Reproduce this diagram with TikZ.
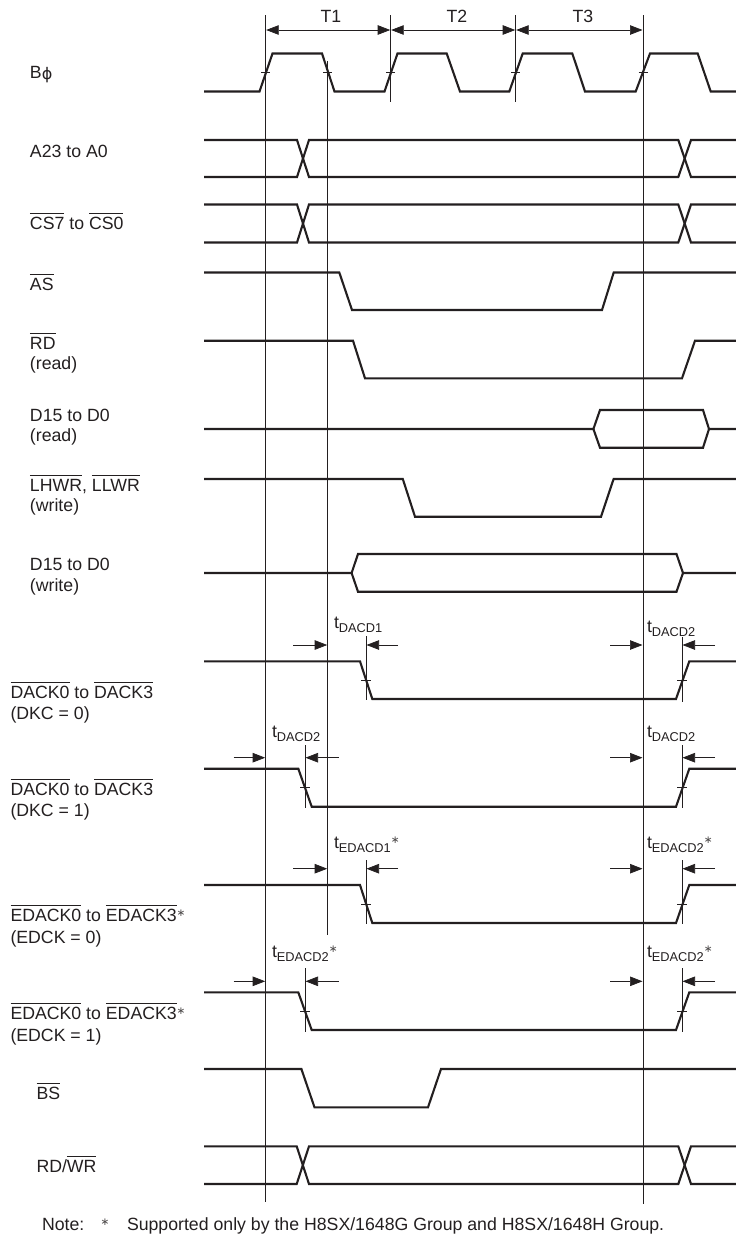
\documentclass[tikz,border=0pt]{standalone}
\usepackage{fontspec}
\setmainfont{Liberation Sans}
\newfontfamily\symfont{DejaVu Sans}
\usetikzlibrary{arrows.meta}
\definecolor{ink}{HTML}{231F20}
\newsavebox{\ovlbox}
\newcommand{\ovl}[1]{\sbox{\ovlbox}{#1}\rlap{\rule[15.6pt]{\wd\ovlbox}{0.65pt}}\usebox{\ovlbox}}
\newcommand{\starmark}{\raisebox{4.6pt}{{\symfont\fontsize{10.5}{11}\selectfont\textcolor{ink!80}{∗}}}}
\newcommand{\tsub}[1]{t\raisebox{-4pt}{\fontsize{12.8}{13}\selectfont #1}}
\tikzset{
  sig/.style={draw=ink,line width=2.1pt,line join=miter},
  guide/.style={draw=ink,line width=0.75pt},
  tickmark/.style={draw=ink,line width=0.75pt},
  dimen/.style={draw=ink,line width=0.7pt,-{Triangle[length=12.5pt,width=9.5pt]}},
  dimboth/.style={draw=ink,line width=0.7pt,{Triangle[length=12.5pt,width=9.5pt]}-{Triangle[length=12.5pt,width=9.5pt]}},
  lab/.style={anchor=base west,inner sep=0pt,outer sep=0pt,text=ink,font=\fontsize{17.7}{21}\selectfont},
  tl/.style={anchor=base,inner sep=0pt,text=ink,font=\fontsize{17.7}{21}\selectfont}
}
\begin{document}
\begin{tikzpicture}[x=1pt,y=-1pt]
\useasboundingbox (0,0) rectangle (736,1235);
% guide lines
\draw[guide] (265.7,15) -- (265.7,1202);
\draw[guide] (327.7,61) -- (327.7,935);
\draw[guide] (390.7,15) -- (390.7,102);
\draw[guide] (515.7,15) -- (515.7,102);
\draw[guide] (643,15) -- (643,1204);
% cycle dimensions
\draw[dimboth] (266.2,30) -- (390.2,30);
\draw[dimboth] (391.2,30) -- (515.2,30);
\draw[dimboth] (516.2,30) -- (642.5,30);
\node[tl] (t1) at (331,22.5) {T1};
\node[tl] (t2) at (457,22.5) {T2};
\node[tl] (t3) at (583,22.5) {T3};
% clock
\draw[sig] (204,91.5) -- (259.5,91.5) -- (272.5,53.5) -- (322,53.5) -- (334.5,91.5) -- (384.5,91.5) -- (397.5,53.5) -- (446.7,53.5) -- (460,91.5) -- (509.3,91.5) -- (522.7,53.5) -- (572.3,53.5) -- (585,91.5) -- (635.7,91.5) -- (650,53.5) -- (697.7,53.5) -- (710.7,91.5) -- (736,91.5);
\foreach \x in {265.7,327.7,390.7,515.7,643}
  \draw[tickmark] (\x-4.5,72) -- (\x+4.5,72);
% crossing buses
\foreach \ya/\yb/\xa/\xb/\xc/\xd in {140/177/297/309/678.3/691, 204.5/242.5/297/309/678.3/691, 1146.3/1184/296.7/309/678.3/691}{
  \draw[sig] (204,\ya) -- (\xa,\ya) -- (\xb,\yb) -- (\xc,\yb) -- (\xd,\ya) -- (736,\ya);
  \draw[sig] (204,\yb) -- (\xa,\yb) -- (\xb,\ya) -- (\xc,\ya) -- (\xd,\yb) -- (736,\yb);
}
% single level strobes
\foreach \h/\l/\xa/\xb/\xc/\xd in {272.5/310/339.3/352/602/613.7, 340.7/378.3/353/365/682/695, 479/516.7/402.8/415/601/613.6, 661.3/699/360/372.3/676/689.3, 768.7/806.7/298.3/311.7/676/689.3, 885/923/360/372.3/676/689.3, 992.3/1030/298.3/311.7/676/689.3, 1069/1107.3/301.4/314.5/428/441}
  \draw[sig] (204,\h) -- (\xa,\h) -- (\xb,\l) -- (\xc,\l) -- (\xd,\h) -- (736,\h);
% data buses
\foreach \m/\h/\l/\xa/\xb/\xc/\xd in {429/410/447.7/593.4/600/703/709, 573/554/591.7/351.6/358/676.5/683}{
  \draw[sig] (204,\m) -- (\xa,\m) -- (\xb,\h) -- (\xc,\h) -- (\xd,\m) -- (736,\m);
  \draw[sig] (\xa,\m) -- (\xb,\l) -- (\xc,\l) -- (\xd,\m);
}
% timing dimensions: arrow y / tick y / top / bottom
\foreach \yy/\ty/\top/\bot in {645/680/636/700, 868.7/904/860/923.7}{
  \draw[guide] (366,\top) -- (366,\bot);
  \draw[tickmark] (361,\ty) -- (371,\ty);
  \draw[dimen] (293,\yy) -- (327.2,\yy);
  \draw[dimen] (398,\yy) -- (366.5,\yy);
}
\foreach \yy/\ty/\top/\bot in {757.7/787.7/745/808, 981.3/1011.7/968/1032}{
  \draw[guide] (305,\top) -- (305,\bot);
  \draw[tickmark] (300,\ty) -- (310,\ty);
  \draw[dimen] (233.7,\yy) -- (265.2,\yy);
  \draw[dimen] (338.7,\yy) -- (305.5,\yy);
}
\foreach \yy/\ty/\top/\bot in {645/680/637/702, 757.7/787.7/745/808, 868.7/904/860/924, 981.3/1011.7/968/1032}{
  \draw[guide] (682,\top) -- (682,\bot);
  \draw[tickmark] (677,\ty) -- (687,\ty);
  \draw[dimen] (610,\yy) -- (642.5,\yy);
  \draw[dimen] (715,\yy) -- (682.5,\yy);
}
% timing labels
\node[lab] (ta) at (334,628) {\tsub{DACD1}};
\node[lab] (tb) at (647,632) {\tsub{DACD2}};
\node[lab] (tc) at (272,737) {\tsub{DACD2}};
\node[lab] (td) at (647,737) {\tsub{DACD2}};
\node[lab] (te) at (334,848) {\tsub{EDACD1}\starmark};
\node[lab] (tf) at (647,848) {\tsub{EDACD2}\starmark};
\node[lab] (tg) at (272,957) {\tsub{EDACD2}\starmark};
\node[lab] (th) at (647,957) {\tsub{EDACD2}\starmark};
% signal labels
\node[lab] (l1) at (30,78) {B{\symfont\fontsize{16}{16}\selectfont\raisebox{-1pt}{ϕ}}};
\node[lab] (l2) at (30,157) {A23 to A0};
\node[lab] (l3) at (30,229) {\ovl{CS7} to \ovl{CS0}};
\node[lab] (l4) at (30,290) {\ovl{AS}};
\node[lab] (l5) at (30,349) {\ovl{RD}};
\node[lab] (l5b) at (30,369.5) {(read)};
\node[lab] (l6) at (30,421) {D15 to D0};
\node[lab] (l6b) at (30,441.5) {(read)};
\node[lab] (l7) at (30,491) {\ovl{LHWR}, \ovl{LLWR}};
\node[lab] (l7b) at (30,511) {(write)};
\node[lab] (l8) at (30,570.5) {D15 to D0};
\node[lab] (l8b) at (30,591) {(write)};
\node[lab] (l9) at (10.5,698) {\ovl{DACK0} to \ovl{DACK3}};
\node[lab] (l9b) at (10.5,719) {(DKC = 0)};
\node[lab] (l10) at (10.5,795) {\ovl{DACK0} to \ovl{DACK3}};
\node[lab] (l10b) at (10.5,816) {(DKC = 1)};
\node[lab] (l11) at (10.5,921) {\ovl{EDACK0} to \ovl{EDACK3}\starmark};
\node[lab] (l11b) at (10.5,943) {(EDCK = 0)};
\node[lab] (l12) at (10.5,1019) {\ovl{EDACK0} to \ovl{EDACK3}\starmark};
\node[lab] (l12b) at (10.5,1041) {(EDCK = 1)};
\node[lab] (l13) at (36.5,1099) {\ovl{BS}};
\node[lab] (l14) at (36.5,1172) {RD/\ovl{WR}};
% note
\node[lab] (n1) at (42,1230) {Note:};
\node[lab] (n2) at (100.5,1230) {\starmark};
\node[lab] (n3) at (127,1230) {Supported only by the H8SX/1648G Group and H8SX/1648H Group.};
\end{tikzpicture}
\end{document}
